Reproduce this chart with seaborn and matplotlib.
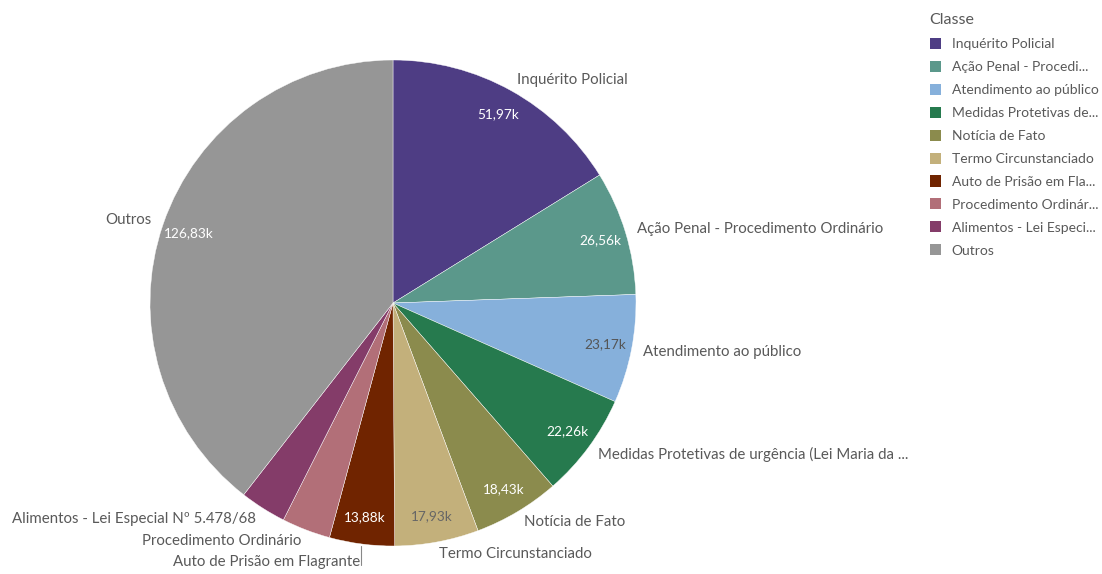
import numpy as np
import matplotlib
matplotlib.use("Agg")
import matplotlib.pyplot as plt
import seaborn as sns
from matplotlib.patches import Patch

sns.set_theme(style="white")
plt.rcParams['font.family'] = ['Lato', 'DejaVu Sans']

categories = ["Inquérito Policial", "Ação Penal - Procedimento Ordinário", "Atendimento ao público",
              "Medidas Protetivas de urgência (Lei Maria da ...", "Notícia de Fato", "Termo Circunstanciado",
              "Auto de Prisão em Flagrante", "Procedimento Ordinário", "Alimentos - Lei Especial Nº 5.478/68",
              "Outros"]
legend_labels = ["Inquérito Policial", "Ação Penal - Procedi...", "Atendimento ao público",
                 "Medidas Protetivas de...", "Notícia de Fato", "Termo Circunstanciado",
                 "Auto de Prisão em Fla...", "Procedimento Ordinár...", "Alimentos - Lei Especi...", "Outros"]
values = [51.97, 26.56, 23.17, 22.26, 18.43, 17.93, 13.88, 10.4, 9.9, 126.83]
value_labels = ["51,97k", "26,56k", "23,17k", "22,26k", "18,43k", "17,93k", "13,88k", "", "", "126,83k"]
colors = ["#4e3d84", "#5b988b", "#86b0db", "#267a4e", "#8b8b4d", "#c3b07b",
          "#702400", "#b26f78", "#843c69", "#969696"]
value_text_colors = ["white", "white", "#555555", "white", "white", "#666666", "white", "white", "white", "white"]

W, H = 1102, 574
fig = plt.figure(figsize=(W / 100, H / 100), dpi=100)
cx, cy, r = 393, 303, 243
ax = fig.add_axes([(cx - r) / W, (H - cy - r) / H, 2 * r / W, 2 * r / H])

wedges, texts = ax.pie(values, labels=categories, colors=colors, startangle=90, counterclock=False,
                       labeldistance=1.05, radius=1.0,
                       wedgeprops=dict(linewidth=0.3, edgecolor="white"),
                       textprops=dict(color="#595959", fontsize=10.8))
ax.set_xlim(-1, 1)
ax.set_ylim(-1, 1)
ax.set_aspect("equal")
ax.axis("off")

for w, lab, tc, name, t in zip(wedges, value_labels, value_text_colors, categories, texts):
    mid = np.deg2rad((w.theta1 + w.theta2) / 2)
    if lab:
        ax.text(0.89 * np.cos(mid), 0.89 * np.sin(mid), lab, ha="center", va="center",
                color=tc, fontsize=9.8)
    if name == "Auto de Prisão em Flagrante":
        x0 = 1.01 * np.cos(mid)
        y0 = 1.01 * np.sin(mid)
        ax.plot([x0, x0], [y0, y0 - 0.075], color="#888888", lw=0.8, clip_on=False)
        tx, ty = t.get_position()
        t.set_position((tx, ty - 0.025))

handles = [Patch(facecolor=c, edgecolor="none") for c in colors]
leg = fig.legend(handles, legend_labels, title="Classe", loc="upper left",
                 bbox_to_anchor=(917 / W, 1 - 1 / H), frameon=False, fontsize=10,
                 title_fontsize=11.5, handlelength=0.85, handleheight=0.85, handletextpad=0.75,
                 labelspacing=0.76, alignment="left")
for t in leg.get_texts():
    t.set_color("#595959")
leg.get_title().set_color("#595959")

fig.savefig("out.png", dpi=100, facecolor="white")
